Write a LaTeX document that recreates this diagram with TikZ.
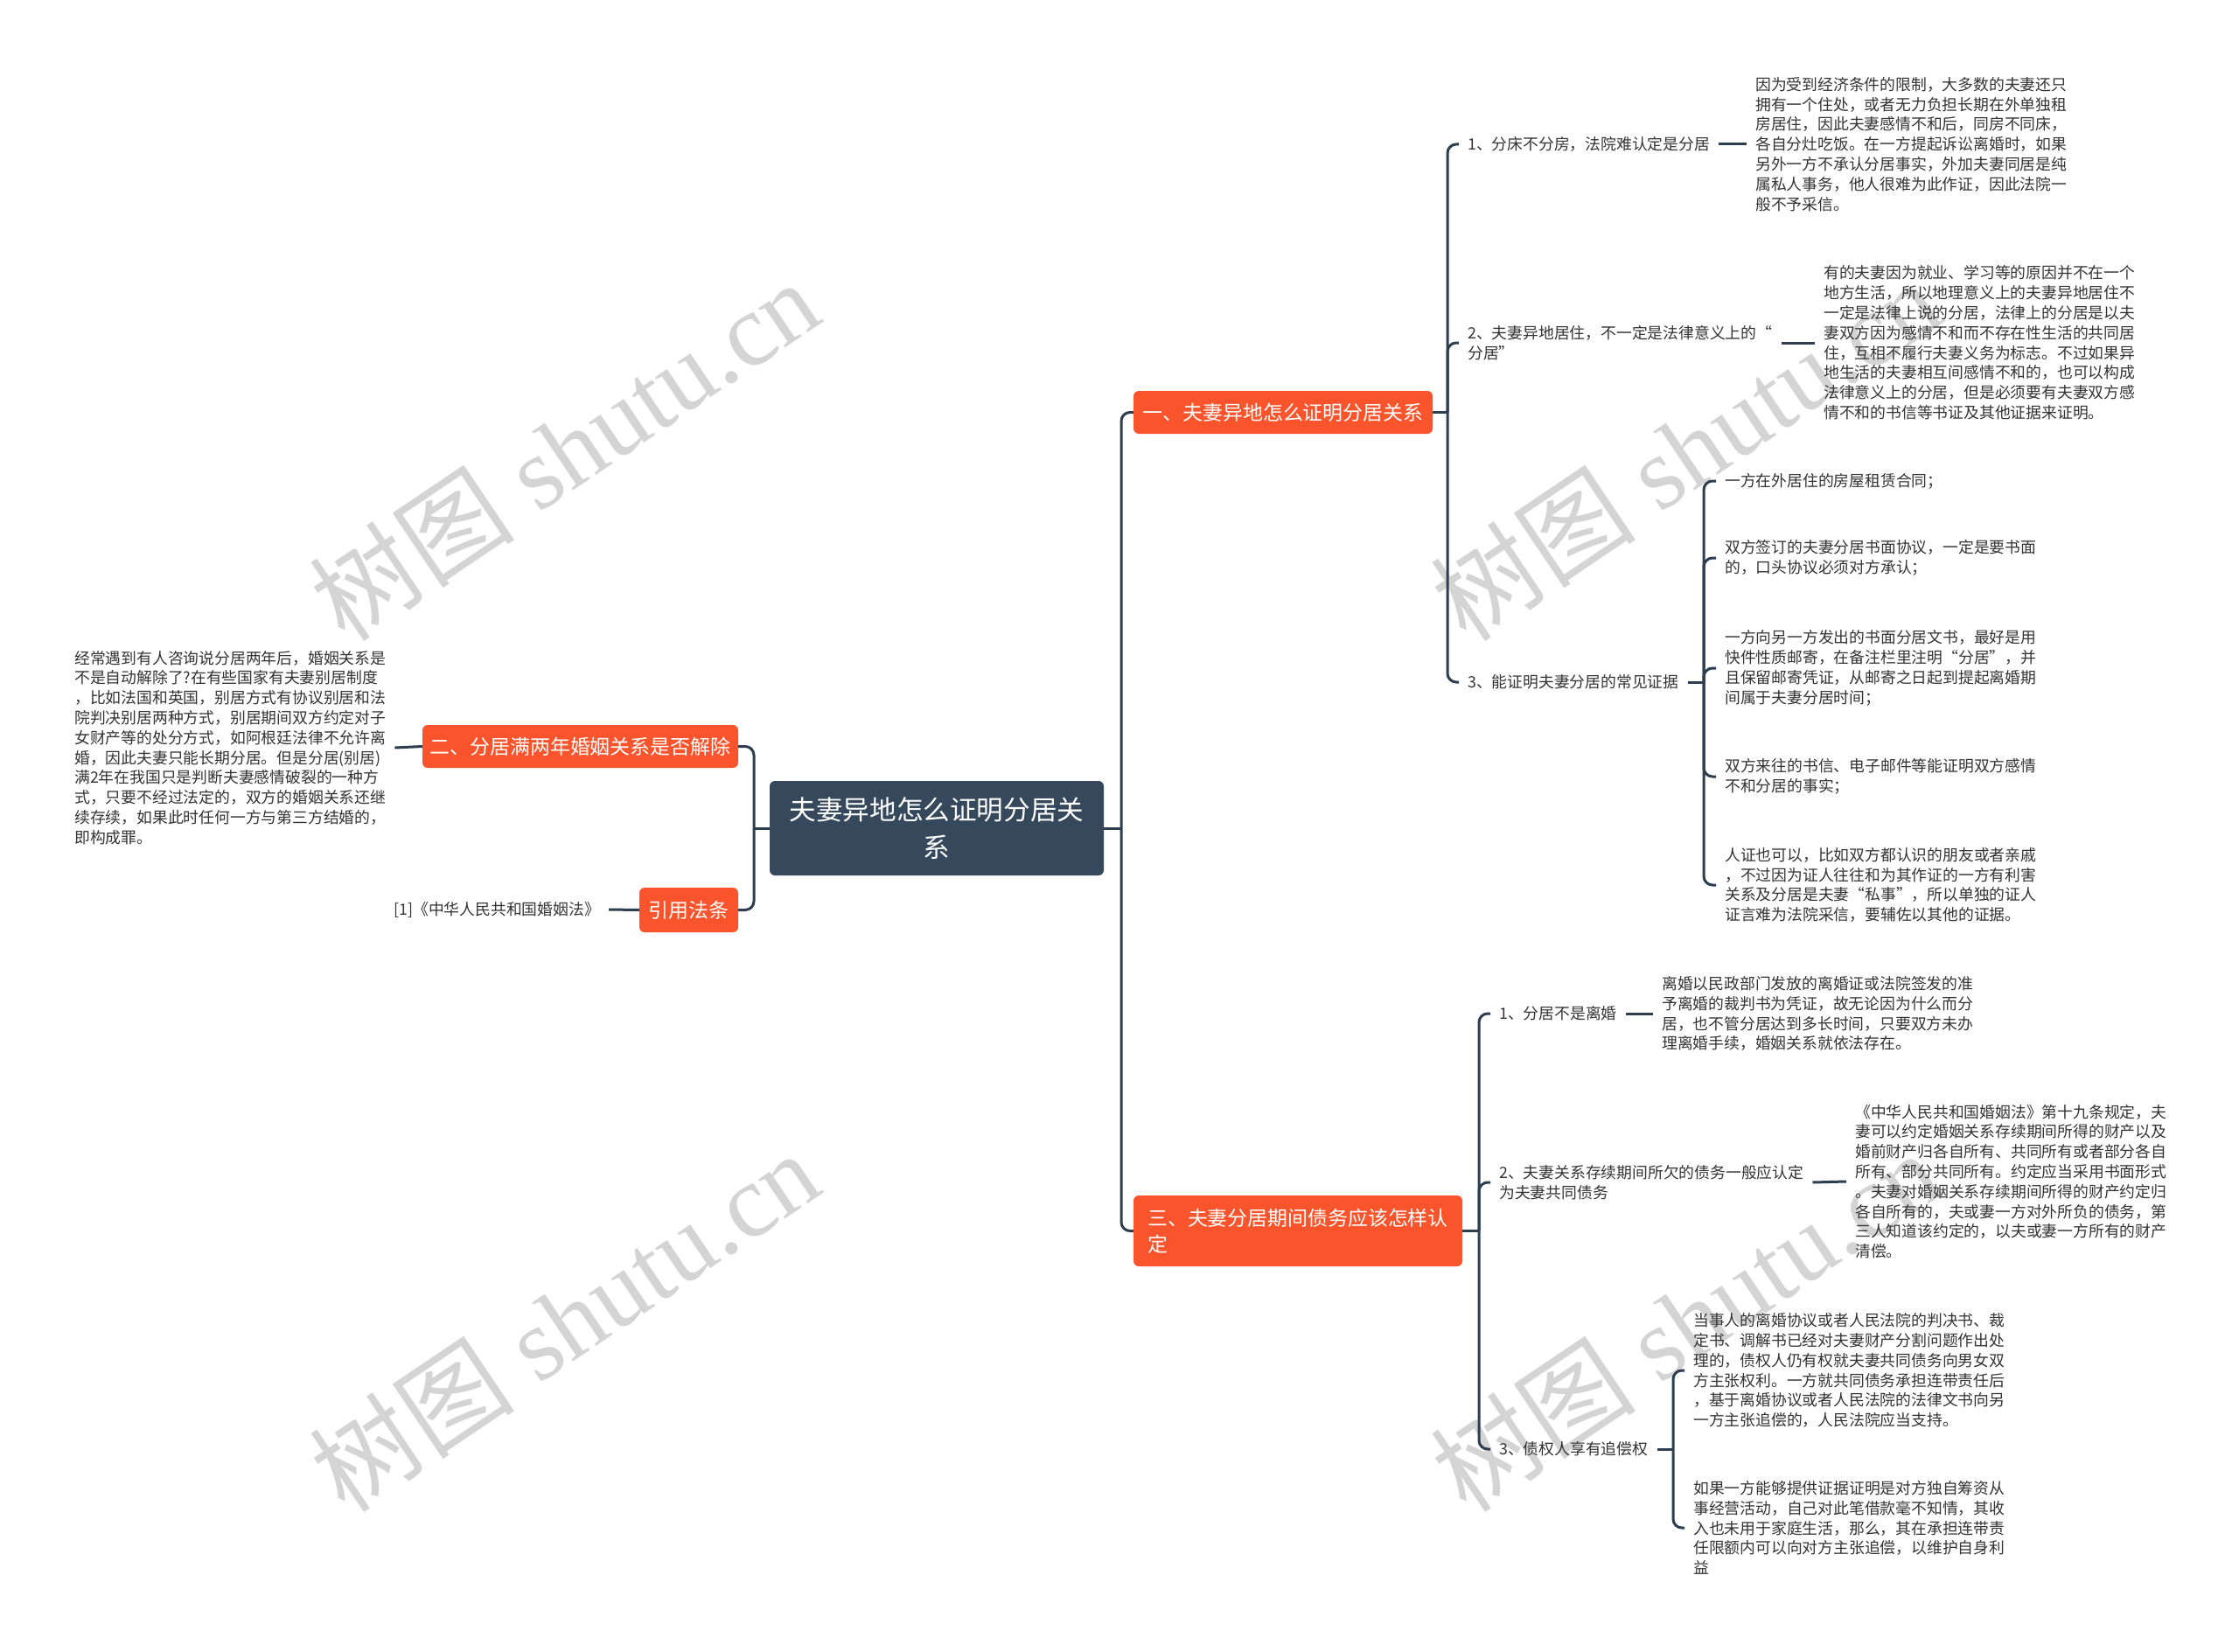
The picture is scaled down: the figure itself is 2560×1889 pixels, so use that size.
\documentclass[tikz,border=0pt]{standalone}
\usepackage{fontspec}
\setmainfont{Noto Sans CJK SC}
\newfontfamily\wmserif{Liberation Serif}
\definecolor{orangeb}{RGB}{250,84,44}
\definecolor{rootc}{RGB}{54,73,92}
\definecolor{linec}{RGB}{44,62,80}
\definecolor{txtc}{RGB}{51,51,51}
\definecolor{wmc}{RGB}{212,212,212}
\begin{document}
\begin{tikzpicture}[x=1pt,y=-1pt,
  conn/.style={draw=linec,line width=3pt,rounded corners=10pt},
  rootbox/.style={fill=rootc,text=white,rounded corners=6pt,minimum width=382pt,minimum height=108pt,align=center,font=\fontsize{30.6}{42.5}\selectfont,inner sep=0pt},
  branchbox/.style={fill=orangeb,text=white,rounded corners=6pt,inner sep=0pt,font=\fontsize{22.9}{30}\selectfont,align=left},
  lbl/.style={text=txtc,inner xsep=10pt,inner ysep=2pt,align=left,anchor=west,font=\fontsize{17.8}{22.8}\selectfont},
  wm/.style={text=wmc,rotate=34,inner sep=0pt,font=\fontsize{118}{118}\selectfont}
]
\fill[white] (0,0) rectangle (2560,1889);
\useasboundingbox (0,0) rectangle (2560,1889);

% watermarks
\node[wm] (wm1) at (645,514) {树图{\wmserif\ shutu.cn}};
\node[wm] (wm2) at (1927,514) {树图{\wmserif\ shutu.cn}};
\node[wm] (wm3) at (645,1510) {树图{\wmserif\ shutu.cn}};
\node[wm] (wm4) at (1927,1510) {树图{\wmserif\ shutu.cn}};

% root and main branches
\node[rootbox] (root) at (1071,947) {夫妻异地怎么证明分居关\\系};
\node[branchbox,minimum width=342pt,minimum height=49pt] (b1) at (1467,471.5) {一、夫妻异地怎么证明分居关系};
\node[branchbox,minimum width=361pt,minimum height=49pt] (b2) at (663.5,853.5) {二、分居满两年婚姻关系是否解除};
\node[branchbox,minimum width=113pt,minimum height=51pt] (b4) at (787.5,1040.5) {引用法条};
\node[branchbox,minimum width=376pt,minimum height=81pt] (b3) at (1484,1407.5) {三、夫妻分居期间债务应该怎样认\\定};

% junctions
\coordinate (jr) at (1282,947);
\coordinate (jl) at (862,947);
\coordinate (j1) at (1655,471.5);
\coordinate (j13) at (1948,780);
\coordinate (j3) at (1691,1407.5);
\coordinate (j33) at (1913,1657);

% branch 1 children
\node[lbl] (c11) at (1668,165) {1、分床不分房，法院难认定是分居};
\node[lbl] (c12) at (1668,392) {2、夫妻异地居住，不一定是法律意义上的“\\分居”};
\node[lbl] (c13) at (1668,780) {3、能证明夫妻分居的常见证据};
\node[lbl] (l11) at (1997,165) {因为受到经济条件的限制，大多数的夫妻还只\\拥有一个住处，或者无力负担长期在外单独租\\房居住，因此夫妻感情不和后，同房不同床，\\各自分灶吃饭。在一方提起诉讼离婚时，如果\\另外一方不承认分居事实，外加夫妻同居是纯\\属私人事务，他人很难为此作证，因此法院一\\般不予采信。};
\node[lbl] (l12) at (2075,392) {有的夫妻因为就业、学习等的原因并不在一个\\地方生活，所以地理意义上的夫妻异地居住不\\一定是法律上说的分居，法律上的分居是以夫\\妻双方因为感情不和而不存在性生活的共同居\\住，互相不履行夫妻义务为标志。不过如果异\\地生活的夫妻相互间感情不和的，也可以构成\\法律意义上的分居，但是必须要有夫妻双方感\\情不和的书信等书证及其他证据来证明。};
\node[lbl] (l13a) at (1962,550) {一方在外居住的房屋租赁合同；};
\node[lbl] (l13b) at (1962,638) {双方签订的夫妻分居书面协议，一定是要书面\\的，口头协议必须对方承认；};
\node[lbl] (l13c) at (1962,764) {一方向另一方发出的书面分居文书，最好是用\\快件性质邮寄，在备注栏里注明“分居”，并\\且保留邮寄凭证，从邮寄之日起到提起离婚期\\间属于夫妻分居时间；};
\node[lbl] (l13d) at (1962,888) {双方来往的书信、电子邮件等能证明双方感情\\不和分居的事实；};
\node[lbl] (l13e) at (1962,1012) {人证也可以，比如双方都认识的朋友或者亲戚\\，不过因为证人往往和为其作证的一方有利害\\关系及分居是夫妻“私事”，所以单独的证人\\证言难为法院采信，要辅佐以其他的证据。};

% branch 3 children
\node[lbl] (c31) at (1704,1159) {1、分居不是离婚};
\node[lbl] (c32) at (1704,1352) {2、夫妻关系存续期间所欠的债务一般应认定\\为夫妻共同债务};
\node[lbl] (c33) at (1704,1657) {3、债权人享有追偿权};
\node[lbl] (l31) at (1890,1159) {离婚以民政部门发放的离婚证或法院签发的准\\予离婚的裁判书为凭证，故无论因为什么而分\\居，也不管分居达到多长时间，只要双方未办\\理离婚手续，婚姻关系就依法存在。};
\node[lbl] (l32) at (2111,1351) {《中华人民共和国婚姻法》第十九条规定，夫\\妻可以约定婚姻关系存续期间所得的财产以及\\婚前财产归各自所有、共同所有或者部分各自\\所有、部分共同所有。约定应当采用书面形式\\。夫妻对婚姻关系存续期间所得的财产约定归\\各自所有的，夫或妻一方对外所负的债务，第\\三人知道该约定的，以夫或妻一方所有的财产\\清偿。};
\node[lbl] (l33a) at (1926,1567) {当事人的离婚协议或者人民法院的判决书、裁\\定书、调解书已经对夫妻财产分割问题作出处\\理的，债权人仍有权就夫妻共同债务向男女双\\方主张权利。一方就共同债务承担连带责任后\\，基于离婚协议或者人民法院的法律文书向另\\一方主张追偿的，人民法院应当支持。};
\node[lbl] (l33b) at (1926,1747) {如果一方能够提供证据证明是对方独自筹资从\\事经营活动，自己对此笔借款毫不知情，其收\\入也未用于家庭生活，那么，其在承担连带责\\任限额内可以向对方主张追偿，以维护自身利\\益};

% left side
\node[lbl] (ll) at (75,855) {经常遇到有人咨询说分居两年后，婚姻关系是\\不是自动解除了?在有些国家有夫妻别居制度\\，比如法国和英国，别居方式有协议别居和法\\院判决别居两种方式，别居期间双方约定对子\\女财产等的处分方式，如阿根廷法律不允许离\\婚，因此夫妻只能长期分居。但是分居(别居)\\满2年在我国只是判断夫妻感情破裂的一种方\\式，只要不经过法定的，双方的婚姻关系还继\\续存续，如果此时任何一方与第三方结婚的，\\即构成罪。};
\node[lbl,anchor=east] (ref) at (696,1040) {[1]《中华人民共和国婚姻法》};

% connectors
\draw[conn] (root.east) -- (jr);
\draw[conn] (b1.west) -| (jr);
\draw[conn] (b3.west) -| (jr);
\draw[conn] (root.west) -- (jl);
\draw[conn] (b2.east) -| (jl);
\draw[conn] (b4.east) -| (jl);
\draw[conn] (ll.east) -- (b2.west);
\draw[conn] (ref.east) -- (b4.west);

\draw[conn] (b1.east) -- (j1);
\draw[conn] (c11.west) -| (j1);
\draw[conn] (c12.west) -| (j1);
\draw[conn] (c13.west) -| (j1);
\draw[conn] (c11.east) -- (l11.west);
\draw[conn] (c12.east) -- (l12.west);
\draw[conn] (c13.east) -- (j13);
\draw[conn] (l13a.west) -| (j13);
\draw[conn] (l13b.west) -| (j13);
\draw[conn] (l13c.west) -| (j13);
\draw[conn] (l13d.west) -| (j13);
\draw[conn] (l13e.west) -| (j13);

\draw[conn] (b3.east) -- (j3);
\draw[conn] (c31.west) -| (j3);
\draw[conn] (c32.west) -| (j3);
\draw[conn] (c33.west) -| (j3);
\draw[conn] (c31.east) -- (l31.west);
\draw[conn] (c32.east) -- (l32.west);
\draw[conn] (c33.east) -- (j33);
\draw[conn] (l33a.west) -| (j33);
\draw[conn] (l33b.west) -| (j33);
\end{tikzpicture}
\end{document}
